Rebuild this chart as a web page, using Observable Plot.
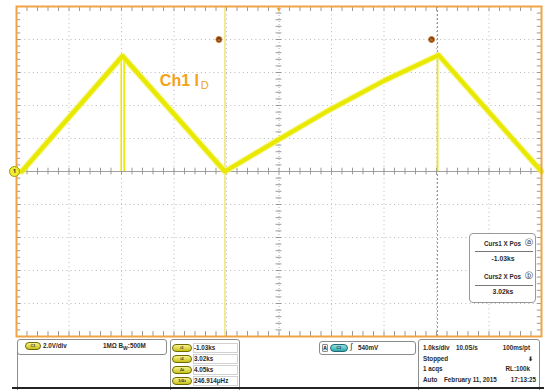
<!DOCTYPE html>
<html><head><meta charset="utf-8">
<script src="https://cdn.jsdelivr.net/npm/d3@7"></script>
<script src="https://cdn.jsdelivr.net/npm/@observablehq/plot@0.6"></script>
<style>
body{margin:0;background:#fff;font-family:"Liberation Sans",Arial,sans-serif;}
#wrap{position:relative;width:544px;height:390px;overflow:hidden;background:#fff;}
#wrap svg{display:block;}
.t{position:absolute;font-size:6.3px;font-weight:bold;color:#2a2a2a;white-space:nowrap;line-height:8px;}
.box{position:absolute;border:1px solid #8c8c8c;border-radius:3px;box-sizing:border-box;background:#fff;}
.pill{position:absolute;height:8px;border-radius:5px;background:linear-gradient(#f6f48a,#c9c21a);border:1px solid #6e6a00;box-sizing:border-box;font-size:4px;line-height:6px;text-align:center;color:#333;font-weight:bold;}
.teal{background:linear-gradient(#8fe3e3,#2aaab0);border-color:#226a70;}
.cell{position:absolute;border:1px solid #d2d2d2;box-sizing:border-box;height:10px;}
</style></head>
<body><div id="wrap"></div>
<script>
// ---- waveform data (time in ks, amplitude in V) ----
const traceTime  = [-5.0, -4.9, -2.98, -1.03, 0.0, 1.0, 2.0, 3.04, 5.0];
const traceVolts = [0.0,  0.0,  7.0,   0.0,  1.95, 3.8, 5.5, 7.05, 0.0];
// spikes drawn by the trace at the two peaks
const spikeTime  = [-3.005, -2.95, 3.02];
const spikeVolts = [7.0, 7.0, 7.05];
// cursors
const cursorNames = ["a", "b"];
const cursorTime  = [-1.03, 3.02];
const cursorLabels = ["-1.03ks", "3.02ks"];
// screen divisions
const timeDomain = [-5, 5];
const voltDomain = [-10, 10];
const channelLabel = "Ch1 I";
const channelSub = "D";
// readout texts
const chanInfo = ["2.0V/div", "1MΩ B", "W", ":500M"];
const cursorTags = ["t1", "t2", "Δt", "1/Δt"];
const cursorVals = ["-1.03ks", "3.02ks", "4.05ks", "246.914μHz"];
const triggerInfo = ["A", "C1", "540mV"];
const acqRows = [
  ["1.0ks/div", "10.0S/s", "100ms/pt"],
  ["Stopped", "", "⬇"],
  ["1 acqs", "", "RL:100k"],
  ["Auto", "February 11, 2015", "17:13:25"]
];

const trace = traceTime.map((t, i) => ({t, v: traceVolts[i]}));
const spikes = spikeTime.map((t, i) => ({t, v: spikeVolts[i]}));
const cursors = cursorTime.map((t, i) => ({t, name: cursorNames[i]}));

const gridX = d3.range(-4, 5, 1).filter(d => d !== 0);
const gridY = d3.range(-8, 10, 2).filter(d => d !== 0);
const minorX = d3.range(-5, 5.001, 0.2);
const minorY = d3.range(-10, 10.001, 0.4);

const yellow = "#e9e900";
const orange = "#f0a445";

const chart = Plot.plot({
  width: 544, height: 338,
  marginLeft: 16, marginRight: 3, marginTop: 6, marginBottom: 2,
  x: {domain: timeDomain, axis: null},
  y: {domain: voltDomain, axis: null},
  style: {background: "#fff", overflow: "visible"},
  marks: [
    Plot.ruleX(gridX, {stroke: "#b8b8b8", strokeDasharray: "1,3.2", strokeWidth: 1}),
    Plot.ruleY(gridY, {stroke: "#b8b8b8", strokeDasharray: "1,3.2", strokeWidth: 1}),
    Plot.ruleX([0], {stroke: "#b0b0b0", strokeDasharray: "1,2", strokeWidth: 1}),
    Plot.ruleY([0], {stroke: "#a0a0a0", strokeWidth: 1}),
    Plot.ruleX(minorX, {y1: -0.2, y2: 0.2, stroke: "#999"}),
    Plot.ruleY(minorY, {x1: -0.055, x2: 0.055, stroke: "#999"}),
    Plot.ruleX(minorX, {y1: -10, y2: -9.7, stroke: "#999"}),
    Plot.ruleX(minorX, {y1: 9.7, y2: 10, stroke: "#999"}),
    Plot.ruleY(minorY, {x1: -5, x2: -4.92, stroke: "#999"}),
    Plot.ruleY(minorY, {x1: 4.92, x2: 5, stroke: "#999"}),
    // cursors
    Plot.ruleX([cursors[0]], {x: "t", stroke: "#eadf5c", strokeWidth: 1.2}),
    Plot.ruleX([cursors[1]], {x: "t", stroke: "#a49a50", strokeWidth: 1, strokeDasharray: "2,2"}),
    // spikes
    Plot.ruleX(spikes, {x: "t", y1: 0, y2: "v", stroke: yellow, strokeWidth: 1.6}),
    // trace
    Plot.line(trace, {x: "t", y: "v", stroke: "#f2f27c", strokeWidth: 6.5, strokeOpacity: 0.7}),
    Plot.line(trace, {x: "t", y: "v", stroke: yellow, strokeWidth: 4.2}),
    Plot.frame({stroke: orange, strokeWidth: 2}),
    // trigger marker
    Plot.text([0], {x: d => d, y: 10, text: () => "▼", fill: orange, fontSize: 7, dy: 3}),
    // ground marker
    Plot.dot([0], {x: -5, y: d => d, r: 5, fill: "#f0ee30", stroke: "#a89a00", strokeWidth: 1, dx: -2}),
    Plot.text([0], {x: -5, y: d => d, text: () => "1", fill: "#333", fontSize: 6, fontWeight: "bold", dx: -2}),
    // cursor markers
    Plot.dot(cursors, {x: "t", y: 8, r: 3, fill: "#7a3a10", stroke: "#d08030", strokeWidth: 1, dx: -6}),
    Plot.text(cursors, {x: "t", y: 8, text: "name", fill: "#f0c080", fontSize: 4, dx: -6}),
    // channel label
    Plot.text([channelLabel], {x: -2.27, y: 5.5, text: d => d, fill: "#f2a31b", fontSize: 16, fontWeight: "bold", textAnchor: "start", fontFamily: "Liberation Sans, Arial, sans-serif"}),
    Plot.text([channelSub], {x: -2.27, y: 5.5, text: d => d, fill: "#f2a31b", fontSize: 11, textAnchor: "start", dx: 41, dy: 5, fontFamily: "Liberation Sans, Arial, sans-serif"})
  ]
});
const wrap = document.getElementById("wrap");
wrap.appendChild(chart);

function el(cls, x, y, txt, extra) {
  const d = document.createElement("div");
  d.className = cls;
  d.style.left = x + "px"; d.style.top = y + "px";
  if (txt !== undefined) d.innerHTML = txt;
  if (extra) Object.assign(d.style, extra);
  wrap.appendChild(d);
  return d;
}

// cursor readout box
el("box", 469, 233, undefined, {width: "67px", height: "70px", borderRadius: "4px", borderColor: "#999"});
el("t", 484, 240, "Curs1 X Pos");
el("t", 525, 239, "ⓐ", {fontSize: "8px", fontWeight: "normal"});
el("box", 475, 251, undefined, {width: "58px", height: "1px", border: "none", background: "#777", borderRadius: "0"});
el("t", 503, 255, cursorLabels[0], {transform: "translateX(-50%)", fontSize: "6.8px"});
el("t", 484, 273, "Curs2 X Pos");
el("t", 525, 272, "ⓑ", {fontSize: "8px", fontWeight: "normal"});
el("box", 475, 285, undefined, {width: "58px", height: "1px", border: "none", background: "#777", borderRadius: "0"});
el("t", 503, 288, cursorLabels[1], {transform: "translateX(-50%)", fontSize: "6.8px"});

// bottom panel
el("box", 17, 339, undefined, {width: "150px", height: "16px"});
el("box", 17, 348, undefined, {width: "1px", height: "42px", border: "none", background: "#8c8c8c", borderRadius: "0"});
el("pill", 25, 342, "C1", {width: "16px"});
el("t", 43, 342, chanInfo[0]);
el("t", 103, 342, chanInfo[1] + "<sub style='font-size:5px'>" + chanInfo[2] + "</sub>" + chanInfo[3]);

el("box", 170, 339, undefined, {width: "70px", height: "55px"});
cursorTags.forEach((tag, i) => {
  const y = 344 + i * 11;
  el("pill", 172, y, tag, {width: "20px"});
  el("cell", 193, y - 1, undefined, {width: "45px"});
  el("t", 194, y, cursorVals[i]);
});

el("box", 319, 341, undefined, {width: "97px", height: "14px"});
el("box", 322, 344, triggerInfo[0], {width: "6px", height: "8px", fontSize: "5px", lineHeight: "6px", textAlign: "center", fontWeight: "bold", borderRadius: "1px", background: "#eee"});
el("pill teal", 330, 344, triggerInfo[1], {width: "18px"});
el("t", 350, 343, "∫", {fontWeight: "normal", fontSize: "8px"});
el("t", 358, 344, triggerInfo[2]);

el("box", 418, 339, undefined, {width: "122px", height: "55px"});
acqRows.forEach((row, i) => {
  const y = 344 + i * 10.5;
  el("t", 423, y, row[0]);
  if (row[1]) el("t", i === 0 ? 456 : 444, y, row[1]);
  el("t", 530, y, row[2], {transform: "translateX(-100%)", left: (i === 1 ? 533 : (i === 3 ? 536 : 530)) + "px"});
});
el("box", 12, 387, undefined, {width: "532px", height: "2px", border: "none", background: "#222", borderRadius: "0"});
</script>
</body></html>
